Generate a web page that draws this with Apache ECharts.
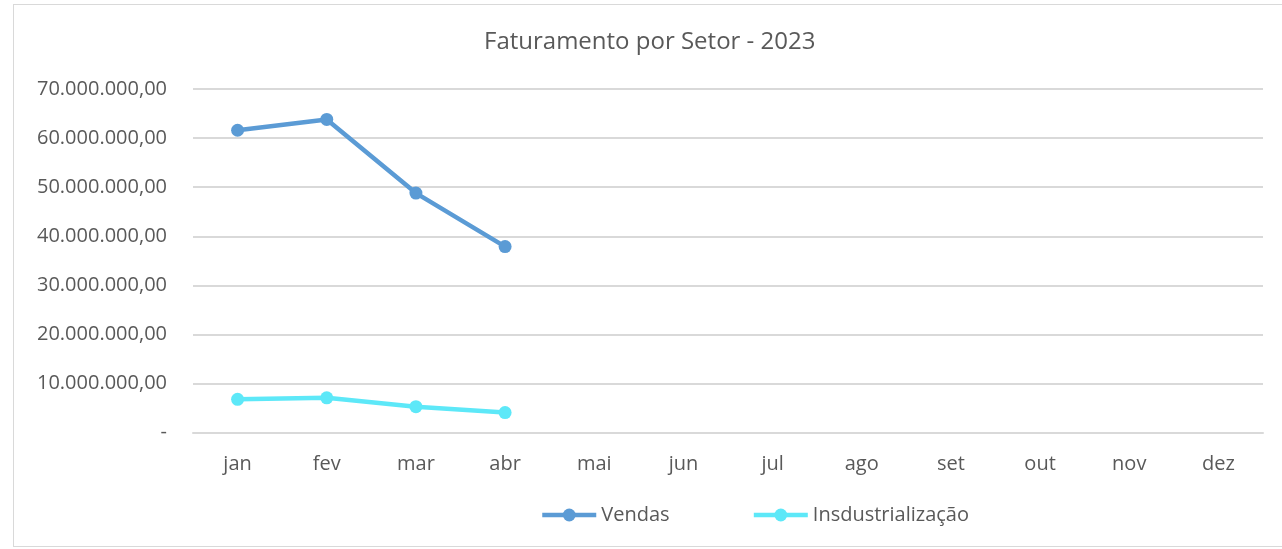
<!DOCTYPE html>
<html>
<head>
<meta charset="utf-8">
<script src="https://cdn.jsdelivr.net/npm/echarts@6/dist/echarts.min.js"></script>
<style>
  html, body { margin: 0; padding: 0; background: #fff; }
  #frame { position: absolute; left: 13px; top: 4px; width: 1280px; height: 543px; border: 1px solid #d9d9d9; box-sizing: border-box; }
  #chart { position: absolute; left: 0; top: 0; width: 1282px; height: 549px; }
</style>
</head>
<body>
<div id="frame"></div>
<div id="chart"></div>
<script>
// meses do ano
var meses = ['jan', 'fev', 'mar', 'abr', 'mai', 'jun', 'jul', 'ago', 'set', 'out', 'nov', 'dez']
// faturamento por setor (R$)
var vendas = [61600000, 63800000, 48800000, 37900000]
var industrializacao = [6800000, 7100000, 5300000, 4100000]

var fonte = "'Open Sans', sans-serif"
var corTexto = '#595959'

function formatBR(v) {
    if (v === 0) return '-'
    var s = Math.round(v).toString().replace(/\B(?=(\d{3})+(?!\d))/g, '.')
    return s + ',00'
}

var chart = echarts.init(document.getElementById('chart'), null, { renderer: 'canvas' })
chart.setOption({
    animation: false,
    title: {
        text: 'Faturamento por Setor - 2023',
        left: 479,
        top: 25,
        textStyle: { fontFamily: fonte, fontSize: 24, fontWeight: 'normal', color: corTexto }
    },
    legend: {
        bottom: 19,
        left: 535,
        itemGap: 82,
        itemWidth: 54,
        itemHeight: 16,
        lineStyle: { width: 4.5 },
        textStyle: { fontFamily: fonte, fontSize: 20, color: corTexto },
        data: ['Vendas', 'Insdustrialização']
    },
    grid: { left: 193, right: 19, top: 89, height: 343.7 },
    xAxis: {
        type: 'category',
        data: meses,
        boundaryGap: true,
        axisLine: { lineStyle: { color: '#d9d9d9', width: 2 } },
        axisTick: { show: false },
        axisLabel: { fontFamily: fonte, fontSize: 20, color: corTexto, margin: 22 }
    },
    yAxis: {
        type: 'value',
        min: 0,
        max: 70000000,
        interval: 10000000,
        axisLine: { show: false },
        axisTick: { show: false },
        splitLine: { lineStyle: { color: '#d9d9d9', width: 2 } },
        axisLabel: { fontFamily: fonte, fontSize: 20, color: corTexto, margin: 26, formatter: formatBR }
    },
    series: [
        {
            name: 'Vendas',
            type: 'line',
            data: vendas,
            symbol: 'circle',
            symbolSize: 13,
            itemStyle: { color: '#5b9bd5' },
            lineStyle: { color: '#5b9bd5', width: 4.5 }
        },
        {
            name: 'Insdustrialização',
            type: 'line',
            data: industrializacao,
            symbol: 'circle',
            symbolSize: 13,
            itemStyle: { color: '#5de8f8' },
            lineStyle: { color: '#5de8f8', width: 4.5 }
        }
    ]
})
</script>
</body>
</html>
